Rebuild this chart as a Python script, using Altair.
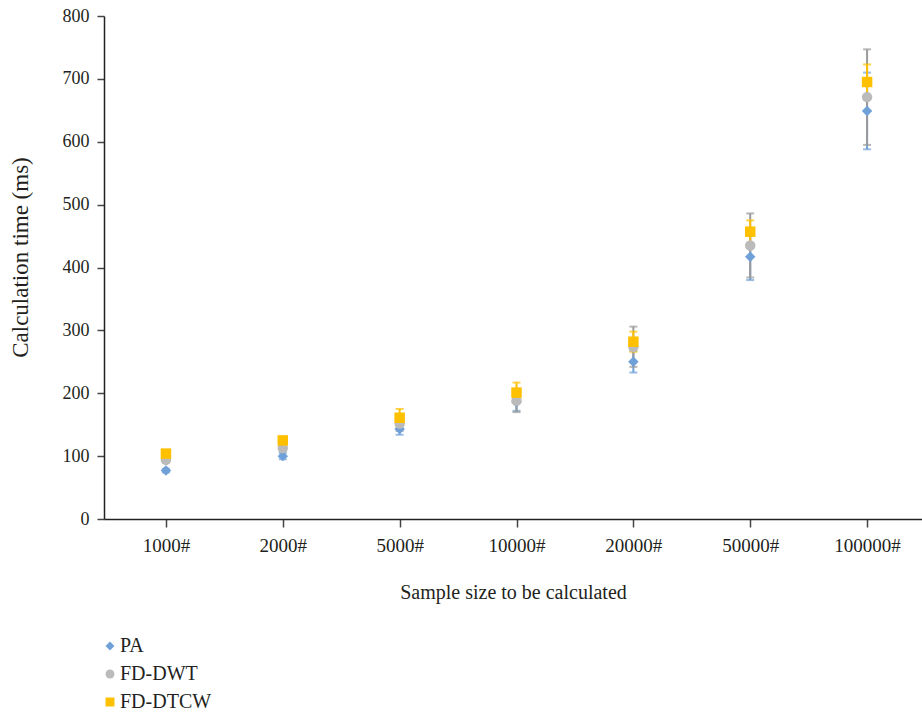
import altair as alt
import pandas as pd

categories = ["1000#", "2000#", "5000#", "10000#", "20000#", "50000#", "100000#"]
series_names = ["PA", "FD-DWT", "FD-DTCW"]
pa = [77, 100, 143, 186, 250, 417, 649]
pa_err = [3, 5, 9, 14, 17, 37, 61]
dwt = [94, 113, 152, 188, 274, 435, 671]
dwt_err = [4, 5, 12, 18, 32, 51, 76]
dtcw = [104, 125, 161, 201, 282, 457, 695]
dtcw_err = [3, 4, 14, 16, 16, 18, 28]

colors = ["#6FA1D8", "#BBBBBB", "#FFC000"]
bar_colors = ["#6FA1D8", "#9A9A9A", "#FFC000"]
shapes = ["diamond", "circle", "square"]

rows = []
for name, vals, errs in zip(series_names, [pa, dwt, dtcw], [pa_err, dwt_err, dtcw_err]):
    for c, v, e in zip(categories, vals, errs):
        rows.append({"series": name, "cat": c, "value": v, "lo": v - e, "hi": v + e})
df = pd.DataFrame(rows)

FONT = "Liberation Serif"
TXT = "#231F20"

x_axis = alt.Axis(
    title="Sample size to be calculated",
    labelAngle=0, labelPadding=9, labelFontSize=19,
    titleY=73, titleBaseline="middle", titleFontSize=20,
    tickSize=8,
)
y_axis = alt.Axis(
    title="Calculation time (ms)",
    values=[0, 100, 200, 300, 400, 500, 600, 700, 800],
    labelPadding=8, labelFontSize=18,
    titleX=-84, titleY=241, titleAngle=-90, titleAlign="center", titleBaseline="middle",
    titleFontSize=23,
    tickSize=7,
)
y_scale = alt.Scale(domain=[0, 800], nice=False)


def xe():
    return alt.X("cat:N", sort=categories,
                 scale=alt.Scale(type="point", padding=0.5, align=0.53), axis=x_axis)


def ye(field):
    return alt.Y(field, scale=y_scale, axis=y_axis)


base = alt.Chart(df)
layers = []
for name, bc in zip(series_names, bar_colors):
    sub = base.transform_filter(alt.datum.series == name)
    layers.append(sub.mark_rule(strokeWidth=2, color=bc).encode(x=xe(), y=ye("lo:Q"), y2="hi:Q"))
    layers.append(sub.mark_tick(size=8, thickness=2, orient="horizontal", color=bc).encode(x=xe(), y=ye("hi:Q")))
    layers.append(sub.mark_tick(size=8, thickness=2, orient="horizontal", color=bc).encode(x=xe(), y=ye("lo:Q")))

legend = alt.Legend(title=None, orient="none", legendX=-4, legendY=620)
points = base.mark_point(filled=True, opacity=1, size=110).encode(
    x=xe(),
    y=ye("value:Q"),
    color=alt.Color("series:N", scale=alt.Scale(domain=series_names, range=colors), legend=legend),
    shape=alt.Shape("series:N", scale=alt.Scale(domain=series_names, range=shapes), legend=legend),
)
layers.append(points)

chart = (
    alt.layer(*layers)
    .properties(
        width=818,
        height=503,
        padding={"left": 104, "top": 16, "right": 0, "bottom": 195},
        autosize=alt.AutoSizeParams(type="none"),
        background="white",
    )
    .configure_view(stroke=None)
    .configure_axis(
        labelFont=FONT, labelColor=TXT,
        titleFont=FONT, titleColor=TXT, titleFontWeight="normal",
        domainColor="#222222", domainWidth=1.5,
        tickColor="#444444", tickWidth=1.5, grid=False,
    )
    .configure_legend(
        labelFont=FONT, labelFontSize=20, labelColor=TXT,
        symbolSize=80, rowPadding=8, labelOffset=0, padding=0,
    )
)

chart.save("out.html", embed_options={"renderer": "svg", "actions": False})
